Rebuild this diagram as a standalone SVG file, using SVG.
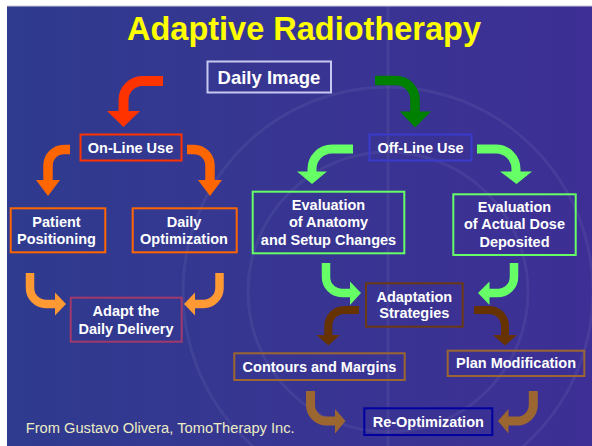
<svg xmlns="http://www.w3.org/2000/svg" width="592" height="446" viewBox="0 0 592 446">
<defs>
<linearGradient id="bg" x1="0" y1="0" x2="1" y2="0">
<stop offset="0" stop-color="#2e3b8e"/>
<stop offset="0.5" stop-color="#383592"/>
<stop offset="1" stop-color="#3d2f95"/>
</linearGradient>
</defs>
<style>
.box{fill:none;stroke-width:2}
.t{font-family:"Liberation Sans",Arial,sans-serif;font-weight:bold;font-size:14.5px;fill:#ffffff;text-anchor:middle}
.arr{fill:none;stroke-linecap:butt}
</style>
<rect x="0" y="0" width="592" height="446" fill="#ffffff"/>
<rect x="7" y="6" width="585" height="440" fill="url(#bg)"/>
<line x1="7" y1="6" x2="592" y2="6" stroke="#c8c8d8" stroke-width="1"/>
<g fill="none" stroke="#ffffff" stroke-opacity="0.06" stroke-width="3">
<circle cx="388" cy="292" r="140"/>
<circle cx="388" cy="292" r="205"/>
<line x1="388" y1="6" x2="388" y2="446"/>
</g>
<text x="304" y="40" style="font-family:'Liberation Sans',Arial,sans-serif;font-weight:bold;font-size:32.5px;fill:#ffff00;text-anchor:middle">Adaptive Radiotherapy</text>

<g id="connectors">
<path class="arr" d="M163,81 H142 A19,19 0 0 0 123.5,100 V112" stroke="#ff3300" stroke-width="10"/>
<polygon points="107,111 140,111 123.5,127" fill="#ff3300"/>
<path class="arr" d="M375,80.5 H396 A19,19 0 0 1 415,99.5 V112" stroke="#008000" stroke-width="9.5"/>
<polygon points="400,111.5 431,111.5 415,127.5" fill="#008000"/>

<path class="arr" d="M70,149.5 H64 A16,16 0 0 0 48,165.5 V181" stroke="#ff6600" stroke-width="9.5"/>
<polygon points="36,180 60,180 48,196" fill="#ff6600"/>
<path class="arr" d="M187,149.5 H194 A16,16 0 0 1 210,165.5 V181" stroke="#ff6600" stroke-width="9.5"/>
<polygon points="198,180 222,180 210,196" fill="#ff6600"/>

<path class="arr" d="M30,273 V288 A16,16 0 0 0 46,304 H56" stroke="#ff9933" stroke-width="8.5"/>
<polygon points="55,292.5 55,315.5 66,304" fill="#ff9933"/>
<path class="arr" d="M219.5,273 V288 A16,16 0 0 1 203.5,304 H194" stroke="#ff9933" stroke-width="8.5"/>
<polygon points="195,292.5 195,315.5 184,304" fill="#ff9933"/>

<path class="arr" d="M353,149 H332 A20,20 0 0 0 312,169 V173" stroke="#66ff66" stroke-width="9"/>
<polygon points="297,171.5 327,171.5 312,184" fill="#66ff66"/>
<path class="arr" d="M477,149 H496 A20,20 0 0 1 516,169 V173" stroke="#66ff66" stroke-width="9"/>
<polygon points="500,171.5 532,171.5 516.5,184" fill="#66ff66"/>

<path class="arr" d="M326,263 V277 A16,16 0 0 0 342,293 H351" stroke="#66ff66" stroke-width="8.5"/>
<polygon points="350,281.5 350,305 361,293" fill="#66ff66"/>
<path class="arr" d="M514,263 V277 A16,16 0 0 1 498,293 H489" stroke="#66ff66" stroke-width="8.5"/>
<polygon points="489.5,281.5 489.5,305 478,293" fill="#66ff66"/>

<path class="arr" d="M359,310 H344 A16,16 0 0 0 328.3,326 V336" stroke="#663300" stroke-width="8"/>
<polygon points="316.5,335 340,335 328.3,345.5" fill="#663300"/>
<path class="arr" d="M474,310 H489 A16,16 0 0 1 505,326 V336" stroke="#663300" stroke-width="8"/>
<polygon points="493,335 517,335 505,345.5" fill="#663300"/>

<path class="arr" d="M310.5,391 V405 A16,16 0 0 0 326.5,421 H336" stroke="#9c6630" stroke-width="9"/>
<polygon points="335,409 335,433.5 345.5,421" fill="#9c6630"/>
<path class="arr" d="M533.3,391 V405 A16,16 0 0 1 517.3,421 H508" stroke="#9c6630" stroke-width="9"/>
<polygon points="508.5,409 508.5,433.5 498,421" fill="#9c6630"/>
</g>

<g id="daily-image">
<rect class="box" x="207.5" y="61.5" width="123.5" height="31" stroke="#c8c8f0"/>
<text class="t" x="269" y="84" style="font-size:18.5px">Daily Image</text>
</g>
<g id="online">
<rect class="box" x="80.5" y="134.5" width="101" height="26" stroke="#ff3300"/>
<text class="t" x="130.5" y="152.7">On-Line Use</text>
</g>
<g id="offline">
<rect class="box" x="369.5" y="134.5" width="102" height="26" stroke="#3a3acc"/>
<text class="t" x="420.5" y="152.7">Off-Line Use</text>
</g>
<g id="patient">
<rect class="box" x="10.7" y="208.3" width="94.6" height="44" stroke="#ff6600"/>
<text class="t" x="56.5" y="226.7">Patient</text>
<text class="t" x="56.5" y="244.3">Positioning</text>
</g>
<g id="daily-opt">
<rect class="box" x="132.7" y="208.3" width="104" height="44" stroke="#ff6600"/>
<text class="t" x="184" y="226.7">Daily</text>
<text class="t" x="184" y="244.3">Optimization</text>
</g>
<g id="adapt-daily">
<rect class="box" x="70.7" y="297.7" width="111" height="44" stroke="#a03a6a"/>
<text class="t" x="126" y="316">Adapt the</text>
<text class="t" x="126" y="334">Daily Delivery</text>
</g>
<g id="eval-anatomy">
<rect class="box" x="252.7" y="191.7" width="151.6" height="61.6" stroke="#66ff66"/>
<text class="t" x="328.5" y="210">Evaluation</text>
<text class="t" x="328.5" y="227.3">of Anatomy</text>
<text class="t" x="328.5" y="245">and Setup Changes</text>
</g>
<g id="eval-dose">
<rect class="box" x="453.3" y="194.3" width="122.4" height="60.7" stroke="#66ff66"/>
<text class="t" x="514.5" y="211.7">Evaluation</text>
<text class="t" x="514.5" y="229.3">of Actual Dose</text>
<text class="t" x="514.5" y="247.3">Deposited</text>
</g>
<g id="adaptation">
<rect class="box" x="366" y="283.3" width="96.7" height="43.4" stroke="#6b3a15"/>
<text class="t" x="414.3" y="301.7">Adaptation</text>
<text class="t" x="414.3" y="318.3">Strategies</text>
</g>
<g id="contours">
<rect class="box" x="234.3" y="353.3" width="170.4" height="26.7" stroke="#9c6630"/>
<text class="t" x="319.5" y="371.7">Contours and Margins</text>
</g>
<g id="plan-mod">
<rect class="box" x="447.7" y="350.7" width="136.6" height="25.3" stroke="#9c6630"/>
<text class="t" x="516" y="368.3">Plan Modification</text>
</g>
<g id="reopt">
<rect class="box" x="364.3" y="408.3" width="128" height="26.7" stroke="#0000a0"/>
<text class="t" x="428.3" y="427">Re-Optimization</text>
</g>
<text x="25.7" y="433" textLength="269" lengthAdjust="spacingAndGlyphs" style="font-family:'Liberation Sans',Arial,sans-serif;font-size:14px;fill:#ecebc4">From Gustavo Olivera, TomoTherapy Inc.</text>
</svg>
